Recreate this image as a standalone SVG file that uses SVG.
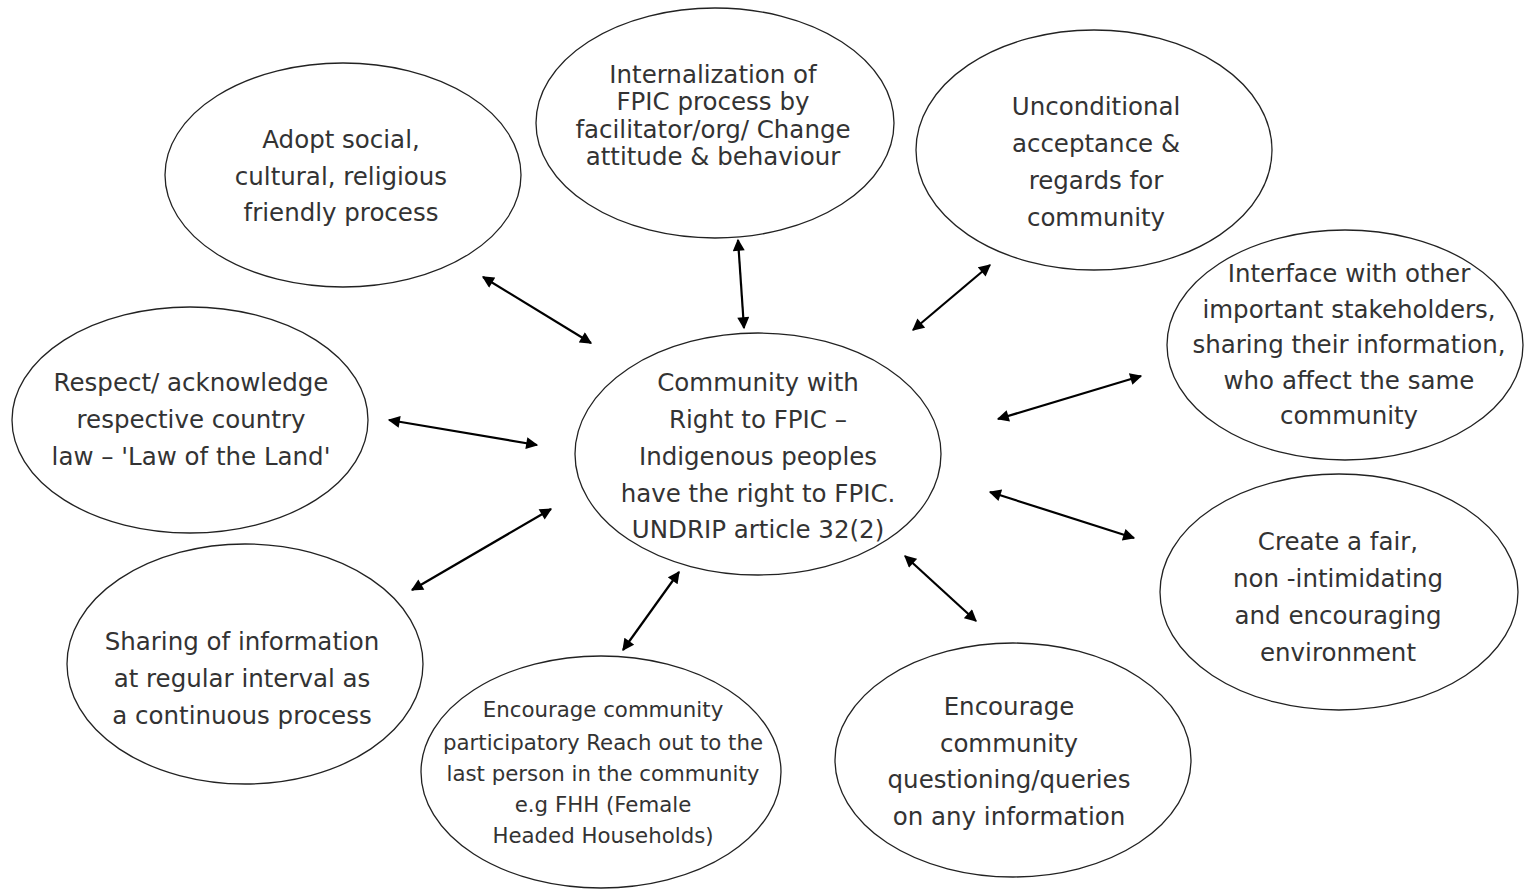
<svg xmlns="http://www.w3.org/2000/svg" width="1526" height="889" viewBox="0 0 1526 889">
<style>
.n ellipse{fill:#fff;stroke:#222;stroke-width:1.3}
.n text{font-family:"DejaVu Sans","Open Sans",sans-serif;font-size:24.5px;fill:#333;text-anchor:middle}
.n text.s{font-size:21.3px}
.c line{stroke:#000;stroke-width:2.2;marker-start:url(#ah);marker-end:url(#ah)}
</style>
<defs>
<marker id="ah" viewBox="0 0 10 10" refX="9" refY="5" markerWidth="13" markerHeight="12" markerUnits="userSpaceOnUse" orient="auto-start-reverse">
<path d="M0,0 L10,5 L0,10 z" fill="#000"/>
</marker>
</defs>
<rect width="1526" height="889" fill="#fff"/>
<g id="n1" class="n"><ellipse cx="343" cy="175" rx="178" ry="112"/>
<text x="341" y="148">Adopt social,</text><text x="341" y="185">cultural, religious</text><text x="341" y="221">friendly process</text></g>
<g id="n2" class="n"><ellipse cx="715" cy="123" rx="179" ry="115"/>
<text x="713" y="83">Internalization of</text><text x="713" y="110">FPIC process by</text><text x="713" y="138">facilitator/org/ Change</text><text x="713" y="165">attitude &amp; behaviour</text></g>
<g id="n3" class="n"><ellipse cx="1094" cy="150" rx="178" ry="120"/>
<text x="1096" y="115">Unconditional</text><text x="1096" y="152">acceptance &amp;</text><text x="1096" y="189">regards for</text><text x="1096" y="226">community</text></g>
<g id="n4" class="n"><ellipse cx="1345" cy="345" rx="178" ry="115"/>
<text x="1349" y="282">Interface with other</text><text x="1349" y="318">important stakeholders,</text><text x="1349" y="353">sharing their information,</text><text x="1349" y="389">who affect the same</text><text x="1349" y="424">community</text></g>
<g id="n5" class="n"><ellipse cx="190" cy="420" rx="178" ry="113"/>
<text x="191" y="391">Respect/ acknowledge</text><text x="191" y="428">respective country</text><text x="191" y="465">law – 'Law of the Land'</text></g>
<g id="n6" class="n"><ellipse cx="758" cy="454" rx="183" ry="121"/>
<text x="758" y="391">Community with</text><text x="758" y="428">Right to FPIC –</text><text x="758" y="465">Indigenous peoples</text><text x="758" y="502">have the right to FPIC.</text><text x="758" y="538">UNDRIP article 32(2)</text></g>
<g id="n7" class="n"><ellipse cx="1339" cy="592" rx="179" ry="118"/>
<text x="1338" y="550">Create a fair,</text><text x="1338" y="587">non -intimidating</text><text x="1338" y="624">and encouraging</text><text x="1338" y="661">environment</text></g>
<g id="n8" class="n"><ellipse cx="245" cy="664" rx="178" ry="120"/>
<text x="242" y="650">Sharing of information</text><text x="242" y="687">at regular interval as</text><text x="242" y="724">a continuous process</text></g>
<g id="n9" class="n"><ellipse cx="601" cy="772" rx="180" ry="116"/>
<text class="s" x="603" y="717">Encourage community</text><text class="s" x="603" y="750">participatory Reach out to the</text><text class="s" x="603" y="781">last person in the community</text><text class="s" x="603" y="812">e.g FHH (Female</text><text class="s" x="603" y="843">Headed Households)</text></g>
<g id="n10" class="n"><ellipse cx="1013" cy="760" rx="178" ry="117"/>
<text x="1009" y="715">Encourage</text><text x="1009" y="752">community</text><text x="1009" y="788">questioning/queries</text><text x="1009" y="825">on any information</text></g>
<g id="connectors" class="c">
<line x1="483" y1="277" x2="591" y2="343"/>
<line x1="738" y1="240" x2="744" y2="328"/>
<line x1="990" y1="265" x2="913" y2="330"/>
<line x1="1141" y1="376" x2="998" y2="419"/>
<line x1="389" y1="420" x2="537" y2="445"/>
<line x1="990" y1="492" x2="1134" y2="538"/>
<line x1="551" y1="509" x2="412" y2="590"/>
<line x1="679" y1="572" x2="623" y2="650"/>
<line x1="905" y1="556" x2="976" y2="621"/>
</g>
</svg>
